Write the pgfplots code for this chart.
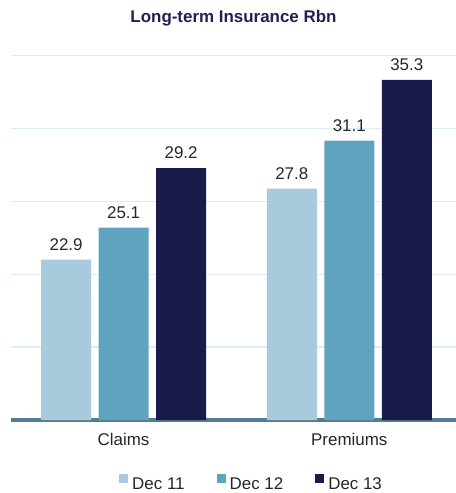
\documentclass[border=0pt]{standalone}
\usepackage{pgfplots}
\pgfplotsset{compat=1.18}
\usepackage{fontspec}
\setmainfont{Liberation Sans}
\definecolor{cLight}{HTML}{A7CBDC}
\definecolor{cMid}{HTML}{60A3BF}
\definecolor{cDark}{HTML}{1A1B4B}
\definecolor{cGrid}{HTML}{DCEDF5}
\definecolor{cBase}{HTML}{527C90}
\definecolor{cTitle}{HTML}{1F2156}
\definecolor{cText}{HTML}{262626}
\begin{document}
\begin{tikzpicture}
\path[use as bounding box] (-11bp,-73bp) rectangle (445bp,420bp);
\begin{axis}[
  at={(0,0)}, anchor=south west,
  scale only axis, width=445bp, height=364.3bp,
  xmin=-0.4989, xmax=1.473,
  ymin=11.82, ymax=36.97,
  ytick={11.82,16.85,21.88,26.91,31.94,36.97},
  yticklabels={},
  ymajorgrids, grid style={color=cGrid, line width=1.3bp},
  axis x line*=bottom, axis y line*=left,
  y axis line style={draw=none},
  x axis line style={color=cBase, line width=4bp, -},
  xtick={0,1}, xticklabels={Claims,Premiums},
  major tick length=0pt,
  /pgf/number format/assume math mode=true,
  xticklabel style={font=\fontsize{17}{20}\selectfont, text=cText, anchor=base, yshift=-25.7bp},
  ybar, bar width=50bp,
  nodes near coords,
  nodes near coords style={font=\fontsize{17}{20}\selectfont, text=cText, anchor=base, yshift=9.3bp},
  every node near coord/.append style={/pgf/number format/.cd, fixed, fixed zerofill, precision=1, assume math mode=true},
  legend columns=-1,
  legend image code/.code={\fill[#1] (0bp,2bp) rectangle (9bp,11bp);},
  legend style={draw=none, fill=none, inner sep=0pt, column sep=0pt,
    font=\fontsize{17}{20}\selectfont, text=cText,
    nodes={inner sep=0pt},
    at={(0.2427,-0.172)}, anchor=west,
    /tikz/every odd column/.append style={column sep=4bp},
    /tikz/every even column/.append style={column sep=32bp}},
]
\addplot[fill=cLight, draw=none, bar shift=-57.5bp] coordinates {(0,22.9) (1,27.8)};
\addplot[fill=cMid, draw=none, bar shift=0bp] coordinates {(0,25.1) (1,31.1)};
\addplot[fill=cDark, draw=none, bar shift=57.5bp] coordinates {(0,29.2) (1,35.3)};
\legend{Dec 11, Dec 12, Dec 13}
\end{axis}
\node[anchor=base, font=\bfseries\fontsize{17}{20}\selectfont, text=cTitle, inner sep=0pt] at (222.5bp,397bp) {Long-term Insurance Rbn};
\end{tikzpicture}
\end{document}
